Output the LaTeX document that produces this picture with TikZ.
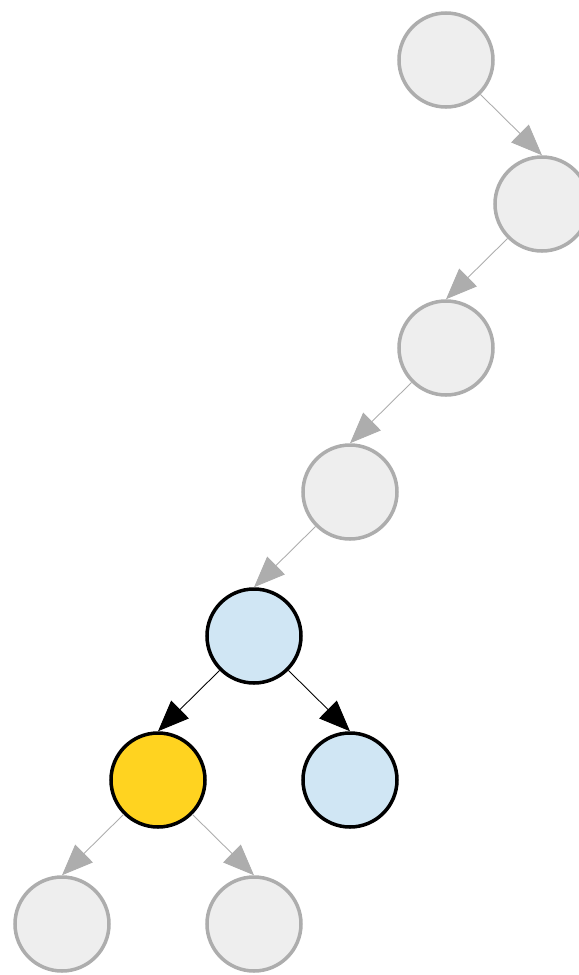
\documentclass[tikz,border=0pt]{standalone}
\usepackage{xcolor}
\usetikzlibrary{arrows.meta,positioning}
\definecolor{nodegray}{RGB}{238,238,238}
\definecolor{edgegray}{RGB}{173,173,173}
\definecolor{lightblue}{RGB}{208,230,244}
\definecolor{goldyellow}{RGB}{255,211,32}

\begin{document}
\begin{tikzpicture}[on grid,node distance=2.88cm and 1.92cm,
  every node/.style={circle,minimum size=1.88cm,line width=2pt},
  faded/.style={draw=edgegray,fill=nodegray},
  active/.style={draw=black,fill=lightblue},
  chosen/.style={draw=black,fill=goldyellow},
  fadededge/.style={edgegray,line width=0.5pt,-{Triangle[length=0.62cm,width=0.5cm]}},
  activeedge/.style={black,line width=0.5pt,-{Triangle[length=0.62cm,width=0.5cm]}}]
\useasboundingbox (0,0) rectangle (11.58,-19.5);
\node[faded] (r1) at (8.92,-1.20) {};
\node[faded,below right=of r1] (r2) {};
\node[faded,below left=of r2] (r3) {};
\node[faded,below left=of r3] (r4) {};
\node[active,below left=of r4] (r5) {};
\node[chosen,below left=of r5] (l6) {};
\node[active,below right=of r5] (r6) {};
\node[faded,below left=of l6] (l7) {};
\node[faded,below right=of l6] (r7) {};

\draw[fadededge] (r1.south east) -- (r2.north);
\draw[fadededge] (r2.south west) -- (r3.north);
\draw[fadededge] (r3.south west) -- (r4.north);
\draw[fadededge] (r4.south west) -- (r5.north);
\draw[activeedge] (r5.south west) -- (l6.north);
\draw[activeedge] (r5.south east) -- (r6.north);
\draw[fadededge] (l6.south west) -- (l7.north);
\draw[fadededge] (l6.south east) -- (r7.north);
\end{tikzpicture}
\end{document}
